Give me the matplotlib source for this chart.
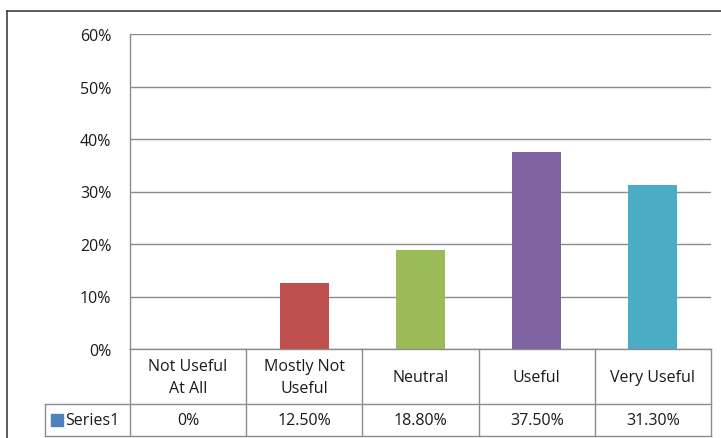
import matplotlib
matplotlib.use("Agg")
import matplotlib.pyplot as plt
from matplotlib.lines import Line2D
from matplotlib.patches import Rectangle

categories = ["Not Useful\nAt All", "Mostly Not\nUseful", "Neutral", "Useful", "Very Useful"]
values = [0.0, 12.5, 18.8, 37.5, 31.3]
value_labels = ["0%", "12.50%", "18.80%", "37.50%", "31.30%"]
series_name = "Series1"
y_ticks = [0, 10, 20, 30, 40, 50, 60]
y_tick_labels = ["0%", "10%", "20%", "30%", "40%", "50%", "60%"]
bar_colors = ["#4F81BD", "#C0504D", "#9BBB59", "#8064A2", "#4BACC6"]
legend_color = "#4F81BD"

W, H = 721, 439
plt.rcParams["font.family"] = ["Open Sans", "DejaVu Sans"]
fig = plt.figure(figsize=(W / 100, H / 100), dpi=100)
FS = 11.5


def fx(x):
    return x / W


def fy(y):
    return 1 - y / H


# plot area in pixel coordinates
L, R, T, B = 130, 711, 35, 350
ax = fig.add_axes([fx(L), fy(B), fx(R - L), (B - T) / H])

grid_c = "#8c8c8c"
text_c = "#1a1a1a"
n = len(categories)
ax.bar(range(n), values, width=0.42, color=bar_colors, zorder=3)
ax.set_xlim(-0.5, n - 0.5)
ax.set_ylim(0, 60)
ax.set_yticks(y_ticks)
ax.set_yticklabels(y_tick_labels, fontsize=FS, color=text_c)
ax.tick_params(axis="y", length=0, pad=13.5)
ax.set_xticks([])
for s in ["top", "right", "bottom"]:
    ax.spines[s].set_visible(False)
ax.spines["left"].set_color(grid_c)
ax.spines["left"].set_linewidth(1)
ax.yaxis.grid(True, color=grid_c, linewidth=1)
ax.set_axisbelow(True)

# data table under the plot area
row1_bottom, row2_bottom = 405, 437
leg_left = 45
col_w = (R - L) / n


def hline(x0, x1, y):
    fig.add_artist(Line2D([fx(x0), fx(x1)], [fy(y), fy(y)], color=grid_c, lw=1))


def vline(x, y0, y1):
    fig.add_artist(Line2D([fx(x), fx(x)], [fy(y0), fy(y1)], color=grid_c, lw=1))


hline(L, R, B)
hline(leg_left, R, row1_bottom)
hline(leg_left, R, row2_bottom)
vline(leg_left, row1_bottom, row2_bottom)
for i in range(n + 1):
    vline(L + i * col_w, B, row2_bottom)

for i, (cat, lab) in enumerate(zip(categories, value_labels)):
    cx = L + (i + 0.5) * col_w
    fig.text(fx(cx), fy((B + row1_bottom) / 2 + 0.5), cat, ha="center", va="center",
             fontsize=FS, color=text_c, linespacing=1.45)
    fig.text(fx(cx), fy((row1_bottom + row2_bottom) / 2), lab, ha="center",
             va="center", fontsize=FS, color=text_c)

fig.add_artist(Rectangle((fx(51), fy(427)), fx(12), 12 / H, color=legend_color,
                         transform=fig.transFigure))
fig.text(fx(65), fy((row1_bottom + row2_bottom) / 2), series_name, ha="left",
         va="center", fontsize=FS, color=text_c)

# chart area border
fig.add_artist(Line2D([fx(7), fx(W)], [fy(12), fy(12)], color="#404040", lw=1.2))
fig.add_artist(Line2D([fx(7), fx(7)], [fy(12), fy(H)], color="#404040", lw=1.2))

fig.savefig("out.png", dpi=100)
